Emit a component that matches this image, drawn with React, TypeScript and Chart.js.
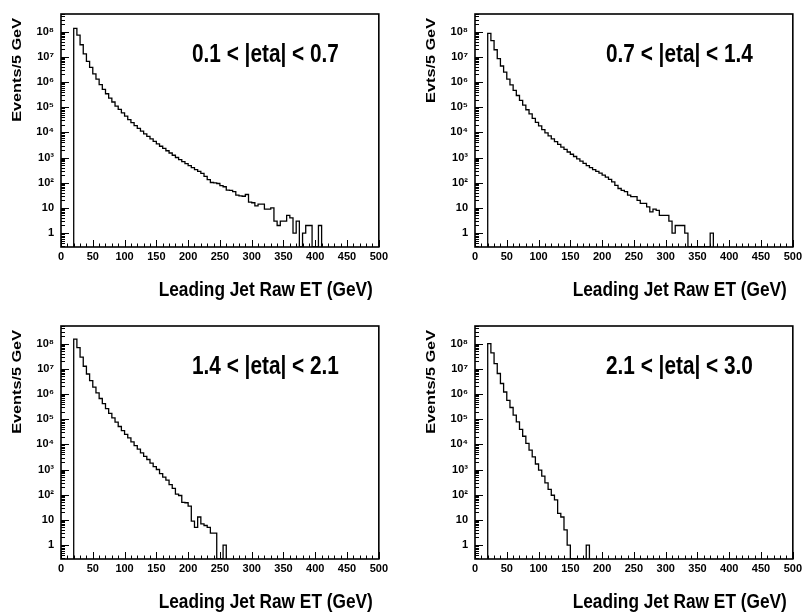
import React, { useEffect, useRef } from "react";
import { Chart, registerables } from "chart.js";

Chart.register(...registerables);

// ---------- data ----------
const BIN_START = 20; // GeV, low edge of first filled bin
const BIN_WIDTH = 5; // GeV per bin
const X_MIN = 0;
const X_MAX = 500;
const X_TICKS = [0, 50, 100, 150, 200, 250, 300, 350, 400, 450, 500];
const X_MINOR_STEP = 10;
const Y_MIN = 0.28;
const Y_MAX = 5e8;
const Y_DECADES = [1, 10, 1e2, 1e3, 1e4, 1e5, 1e6, 1e7, 1e8];
const Y_TICK_LABELS = ["1", "10", "10²", "10³", "10⁴", "10⁵", "10⁶", "10⁷", "10⁸"];

const X_TITLE = "Leading Jet Raw ET (GeV)";
const PANEL_LABELS = ["0.1 < |eta| < 0.7", "0.7 < |eta| < 1.4", "1.4 < |eta| < 2.1", "2.1 < |eta| < 3.0"];
const Y_TITLES = ["Events/5 GeV", "Evts/5 GeV", "Events/5 GeV", "Events/5 GeV"];

// events per 5 GeV bin, starting at 20 GeV
const eta01to07 = [
  1.35e8, 7.2e7, 3.0e7, 1.3e7, 6.6e6, 3.8e6, 2.1e6, 1.3e6, 7.9e5, 5.1e5,
  3.4e5, 2.3e5, 1.6e5, 1.1e5, 8.1e4, 5.9e4, 4.4e4, 3.2e4, 2.45e4, 1.86e4,
  1.45e4, 1.12e4, 8.7e3, 6.9e3, 5.5e3, 4.4e3, 3.5e3, 2.8e3, 2.3e3, 1.86e3,
  1.51e3, 1.23e3, 1.0e3, 830, 690, 575, 480, 400, 330, 282,
  234, 178, 132, 102, 98, 93, 76, 69, 51, 50,
  44, 32, 30, 29, 34, 17, 16, 12, 14, 14,
  9, 9, 10, 3, 2, 3, 3, 5, 4, 1,
  3, 0, 1, 2, 2, 0, 0, 2,
];

const eta07to14 = [
  8.5e7, 4.4e7, 1.9e7, 8.5e6, 4.3e6, 2.45e6, 1.3e6, 7.6e5, 4.6e5, 2.9e5,
  1.85e5, 1.2e5, 7.9e4, 5.4e4, 3.6e4, 2.5e4, 1.8e4, 1.29e4, 9.5e3, 7.2e3,
  5.5e3, 4.3e3, 3.3e3, 2.6e3, 2.1e3, 1.66e3, 1.35e3, 1.1e3, 890, 720,
  590, 480, 400, 330, 282, 240, 200, 166, 135, 107,
  79, 59, 50, 44, 32, 28, 28, 20, 15, 15,
  11, 7, 9, 8, 5, 5, 5, 3, 1, 2,
  2, 2, 1, 0, 0, 0, 0, 0, 0, 0,
  1,
];

const eta14to21 = [
  1.5e8, 6.9e7, 2.9e7, 1.26e7, 6.2e6, 3.4e6, 1.86e6, 1.1e6, 6.6e5, 4.1e5,
  2.6e5, 1.7e5, 1.12e5, 7.6e4, 5.1e4, 3.5e4, 2.5e4, 1.8e4, 1.26e4, 8.9e3,
  6.5e3, 4.6e3, 3.3e3, 2.5e3, 1.8e3, 1.3e3, 1.0e3, 690, 500, 380,
  250, 180, 105, 93, 50, 48, 35, 9, 5, 13,
  7, 6, 5, 3, 3, 0, 0, 1,
];

const eta21to30 = [
  1.0e8, 4.3e7, 1.6e7, 6.5e6, 2.6e6, 1.2e6, 5.6e5, 2.9e5, 1.45e5, 7.8e4,
  3.9e4, 2.1e4, 1.1e4, 5.9e3, 3.2e3, 1.66e3, 950, 550, 295, 162,
  95, 62, 18, 13, 4, 1, 0, 0, 0, 0,
  0, 1,
];

// ---------- drawing helpers ----------
const FONT = '"Liberation Sans", Arial, Helvetica, sans-serif';

const histDecor = {
  id: "histDecor",
  afterDraw(chart: any, _args: any, opts: any) {
    const { ctx, chartArea } = chart;
    const { left, right, top, bottom } = chartArea;
    const xs = chart.scales.x;
    const ys = chart.scales.y;
    ctx.save();
    ctx.strokeStyle = "#000";
    ctx.lineWidth = 1;
    ctx.beginPath();
    for (let v = X_MIN; v <= X_MAX; v += X_MINOR_STEP) {
      const px = Math.round(xs.getPixelForValue(v)) + 0.5;
      const len = X_TICKS.includes(v) ? 7 : 3.5;
      ctx.moveTo(px, bottom);
      ctx.lineTo(px, bottom - len);
    }
    for (let d = 0.1; d <= Y_MAX; d *= 10) {
      for (let m = 1; m <= 9; m++) {
        const v = m * d;
        if (v < Y_MIN || v > Y_MAX) continue;
        const py = Math.round(ys.getPixelForValue(v)) + 0.5;
        const len = m === 1 ? 8 : 4;
        ctx.moveTo(left, py);
        ctx.lineTo(left + len, py);
      }
    }
    ctx.stroke();

    ctx.lineWidth = 1.6;
    ctx.strokeRect(left, top, right - left, bottom - top);

    ctx.fillStyle = "#000";
    // panel label
    ctx.save();
    ctx.translate(left + 131, top + 48);
    ctx.scale(1, 1.25);
    ctx.font = `bold 20.8px ${FONT}`;
    ctx.textAlign = "left";
    ctx.textBaseline = "alphabetic";
    ctx.fillText(opts.label, 0, 0);
    ctx.restore();

    // x title
    ctx.save();
    ctx.translate(right - 6, bottom + 49);
    ctx.scale(1, 1.12);
    ctx.font = `bold 17.3px ${FONT}`;
    ctx.textAlign = "right";
    ctx.textBaseline = "alphabetic";
    ctx.fillText(X_TITLE, 0, 0);
    ctx.restore();

    // y title
    ctx.save();
    ctx.translate(17, top + 4);
    ctx.rotate(-Math.PI / 2);
    ctx.scale(1.25, 1);
    ctx.font = `bold 13px ${FONT}`;
    ctx.textAlign = "right";
    ctx.textBaseline = "middle";
    ctx.fillText(opts.yTitle, 0, 0);
    ctx.restore();

    ctx.restore();
  },
};

function toPoints(values: number[]) {
  const pts = [{ x: BIN_START, y: Y_MIN }];
  values.forEach((v, i) => pts.push({ x: BIN_START + i * BIN_WIDTH, y: v > 0 ? v : Y_MIN }));
  pts.push({ x: BIN_START + values.length * BIN_WIDTH, y: Y_MIN });
  return pts;
}

const CANVAS_W = 391;
const CANVAS_H = 300;

function Panel({ values, label, yTitle, left, top }: any) {
  const ref = useRef<HTMLCanvasElement | null>(null);
  useEffect(() => {
    if (!ref.current) return;
    const chart = new Chart(ref.current, {
      type: "line",
      data: {
        datasets: [
          {
            data: toPoints(values),
            borderColor: "#000",
            borderWidth: 1.3,
            pointRadius: 0,
            stepped: "before",
            fill: false,
            tension: 0,
          },
        ],
      },
      options: {
        animation: false,
        responsive: false,
        events: [],
        layout: { padding: { top: 14, right: 12, bottom: 0, left: 0 } },
        plugins: {
          legend: { display: false },
          tooltip: { enabled: false },
          histDecor: { label, yTitle },
        } as any,
        scales: {
          x: {
            type: "linear",
            min: X_MIN,
            max: X_MAX,
            afterFit: (s: any) => {
              s.height = 53;
            },
            afterBuildTicks: (s: any) => {
              s.ticks = X_TICKS.map((v) => ({ value: v }));
            },
            ticks: {
              autoSkip: false,
              maxRotation: 0,
              padding: 3,
              color: "#000",
              font: { family: FONT, weight: "bold", size: 11 },
              callback: (v: any) => String(v),
            },
            grid: { display: false, drawTicks: false },
            border: { display: false },
          },
          y: {
            type: "logarithmic",
            min: Y_MIN,
            max: Y_MAX,
            afterFit: (s: any) => {
              s.width = 61;
            },
            afterBuildTicks: (s: any) => {
              s.ticks = Y_DECADES.map((v) => ({ value: v }));
            },
            ticks: {
              autoSkip: false,
              padding: 7,
              color: "#000",
              font: { family: FONT, weight: "bold", size: 11 },
              callback: (v: any) => {
                const i = Y_DECADES.indexOf(Number(v));
                return i >= 0 ? Y_TICK_LABELS[i] : "";
              },
            },
            grid: { display: false, drawTicks: false },
            border: { display: false },
          },
        },
      } as any,
      plugins: [histDecor as any],
    });
    return () => chart.destroy();
  }, [values, label, yTitle]);
  return (
    <canvas
      ref={ref}
      width={CANVAS_W}
      height={CANVAS_H}
      style={{ position: "absolute", left, top, width: CANVAS_W, height: CANVAS_H }}
    />
  );
}

const PANELS = [
  { values: eta01to07, label: PANEL_LABELS[0], yTitle: Y_TITLES[0], left: 0, top: 0 },
  { values: eta07to14, label: PANEL_LABELS[1], yTitle: Y_TITLES[1], left: 414, top: 0 },
  { values: eta14to21, label: PANEL_LABELS[2], yTitle: Y_TITLES[2], left: 0, top: 312 },
  { values: eta21to30, label: PANEL_LABELS[3], yTitle: Y_TITLES[3], left: 414, top: 312 },
];

export default function App() {
  return (
    <div
      style={{
        position: "fixed",
        left: 0,
        top: 0,
        width: 805,
        height: 612,
        background: "#fff",
        overflow: "hidden",
      }}
    >
      {PANELS.map((p, i) => (
        <Panel key={i} {...p} />
      ))}
    </div>
  );
}
